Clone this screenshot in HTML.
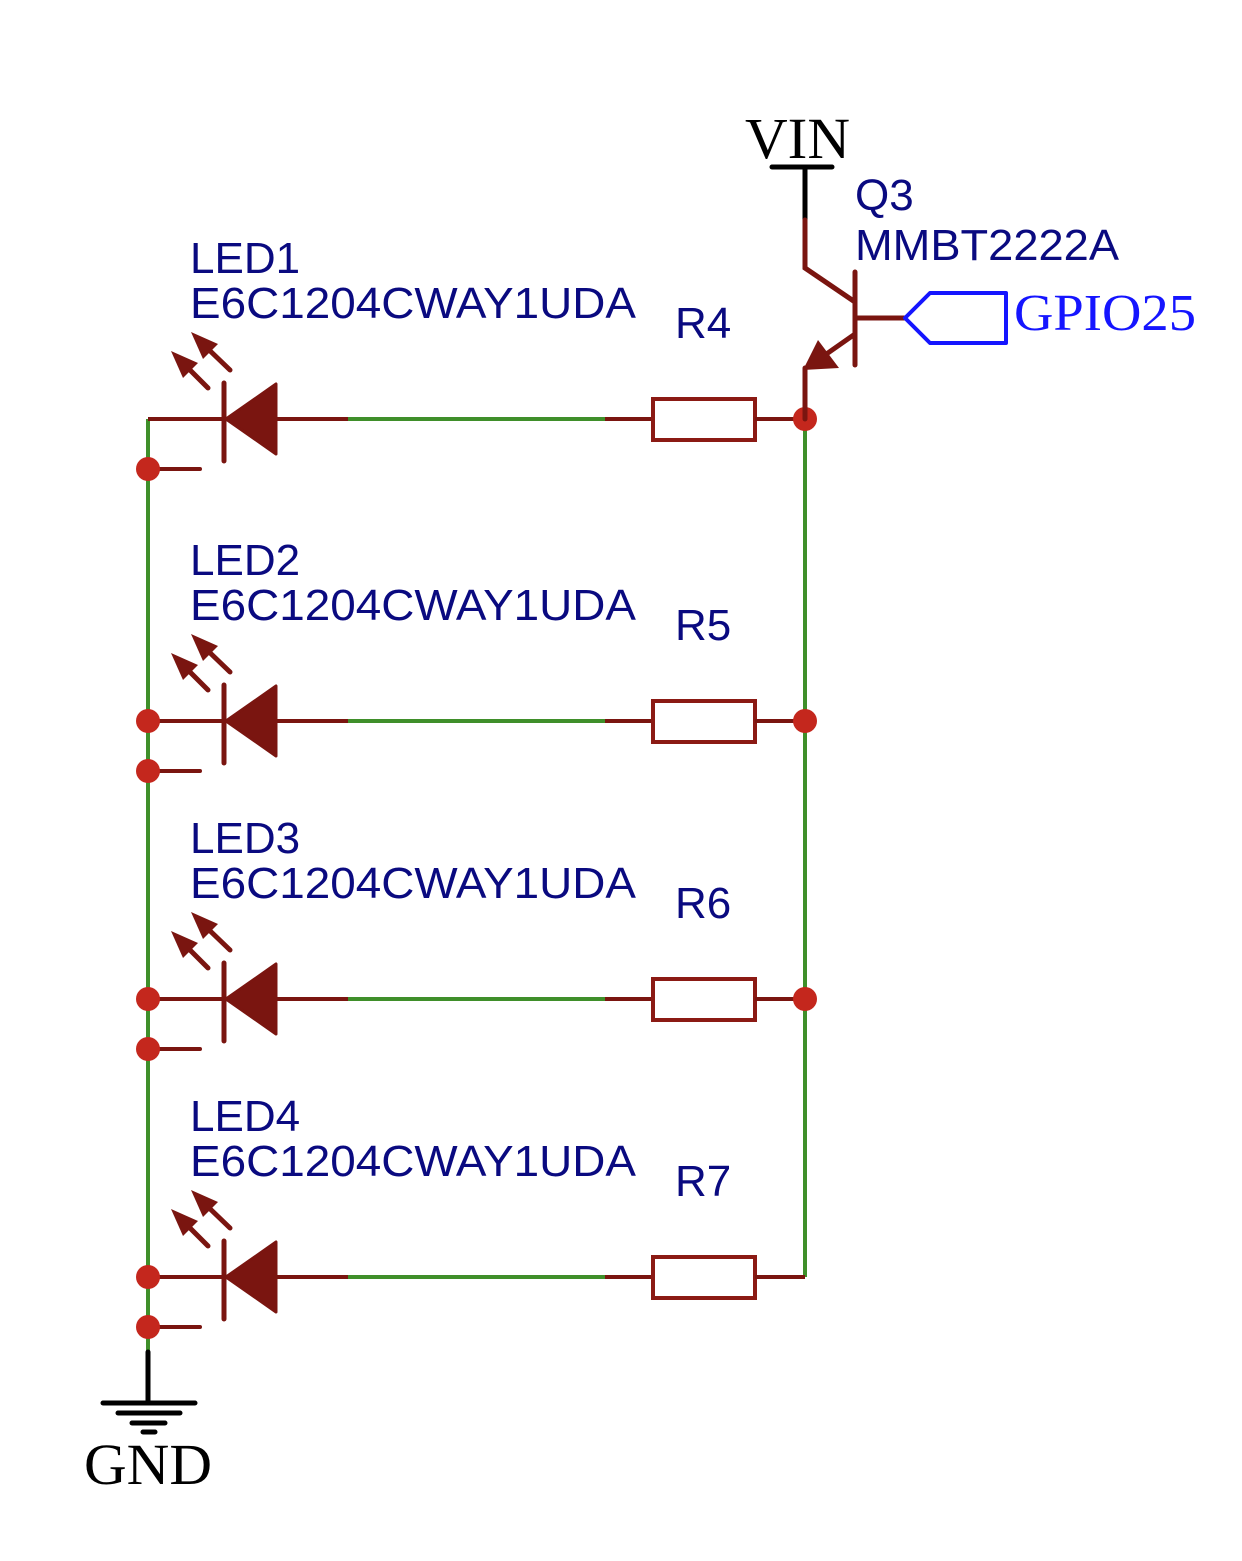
<!DOCTYPE html>
<html><head><meta charset="utf-8"><style>html,body{margin:0;padding:0;background:#fff}svg{display:block}</style></head>
<body>
<svg width="1242" height="1561" viewBox="0 0 1242 1561" xmlns="http://www.w3.org/2000/svg">
<defs>
<g id="led">
  <line x1="148" y1="0" x2="348" y2="0" stroke="#7a1510" stroke-width="4"/>
  <line x1="348" y1="0" x2="605" y2="0" stroke="#3f8f2a" stroke-width="4"/>
  <line x1="605" y1="0" x2="652" y2="0" stroke="#7a1510" stroke-width="4"/>
  <rect x="653" y="-20" width="102" height="41" fill="none" stroke="#8b1a14" stroke-width="4"/>
  <line x1="755" y1="0" x2="805" y2="0" stroke="#7a1510" stroke-width="4"/>
  <line x1="224" y1="-36" x2="224" y2="42" stroke="#7a1510" stroke-width="5" stroke-linecap="round"/>
  <polygon points="226,0 276,-35 276,35" fill="#7a1510" stroke="#7a1510" stroke-width="3" stroke-linejoin="round"/>
  <line x1="208" y1="-31" x2="185" y2="-54" stroke="#7a1510" stroke-width="5" stroke-linecap="round"/>
  <polygon points="171,-68 198,-56 183,-41" fill="#7a1510"/>
  <line x1="230" y1="-49" x2="205" y2="-73" stroke="#7a1510" stroke-width="5" stroke-linecap="round"/>
  <polygon points="191,-87 218,-75 203,-60" fill="#7a1510"/>
  <line x1="148" y1="50" x2="200" y2="50" stroke="#7a1510" stroke-width="4" stroke-linecap="round"/>
  <circle cx="148" cy="50" r="12" fill="#c4271d"/>
</g>
</defs>
<line x1="148" y1="419" x2="148" y2="1352" stroke="#3f8f2a" stroke-width="4"/>
<line x1="805" y1="419" x2="805" y2="1277" stroke="#3f8f2a" stroke-width="4"/>
<use href="#led" y="419"/>
<use href="#led" y="721"/>
<use href="#led" y="999"/>
<use href="#led" y="1277"/>
<g fill="#c4271d">
<circle cx="805" cy="419" r="12"/><circle cx="805" cy="721" r="12"/><circle cx="805" cy="999" r="12"/>
<circle cx="148" cy="721" r="12"/><circle cx="148" cy="999" r="12"/><circle cx="148" cy="1277" r="12"/>
</g>
<g stroke="#000" stroke-width="5" stroke-linecap="round">
<line x1="148" y1="1352" x2="148" y2="1403"/>
<line x1="103" y1="1403" x2="195" y2="1403"/>
<line x1="118" y1="1413" x2="180" y2="1413"/>
<line x1="132" y1="1423" x2="165" y2="1423"/>
<line x1="143" y1="1432" x2="155" y2="1432"/>
</g>
<text x="84" y="1484" textLength="128" lengthAdjust="spacingAndGlyphs" font-family="Liberation Serif, serif" font-size="58" fill="#000">GND</text>
<g stroke-linecap="round" stroke-width="5">
<line x1="772" y1="167" x2="832" y2="167" stroke="#000"/>
<line x1="805" y1="167" x2="805" y2="220" stroke="#000"/>
<polyline points="805,220 805,268 855,302" fill="none" stroke="#7a1510"/>
<line x1="855" y1="272" x2="855" y2="365" stroke="#7a1510"/>
<line x1="855" y1="318" x2="905" y2="318" stroke="#7a1510"/>
<line x1="855" y1="334" x2="825" y2="355" stroke="#7a1510"/>
<line x1="805" y1="368" x2="805" y2="419" stroke="#7a1510"/>
</g>
<polygon points="803,370 818,340 839,368" fill="#7a1510"/>
<polygon points="905,318 930,293 1006,293 1006,343 930,343" fill="none" stroke="#1515ff" stroke-width="4" stroke-linejoin="round"/>
<text x="745" y="158" textLength="105" lengthAdjust="spacingAndGlyphs" font-family="Liberation Serif, serif" font-size="58" fill="#000">VIN</text>
<text x="1014" y="330" textLength="182" lengthAdjust="spacingAndGlyphs" font-family="Liberation Serif, serif" font-size="52" fill="#1515ff">GPIO25</text>
<g font-family="Liberation Sans, sans-serif" font-size="44" fill="#0a0a80">
<text x="855" y="210">Q3</text>
<text x="855" y="260" textLength="264" lengthAdjust="spacingAndGlyphs">MMBT2222A</text>
<text x="190" y="273">LED1</text>
<text x="190" y="318" textLength="446" lengthAdjust="spacingAndGlyphs">E6C1204CWAY1UDA</text>
<text x="675" y="338">R4</text>
<text x="190" y="575">LED2</text>
<text x="190" y="620" textLength="446" lengthAdjust="spacingAndGlyphs">E6C1204CWAY1UDA</text>
<text x="675" y="640">R5</text>
<text x="190" y="853">LED3</text>
<text x="190" y="898" textLength="446" lengthAdjust="spacingAndGlyphs">E6C1204CWAY1UDA</text>
<text x="675" y="918">R6</text>
<text x="190" y="1131">LED4</text>
<text x="190" y="1176" textLength="446" lengthAdjust="spacingAndGlyphs">E6C1204CWAY1UDA</text>
<text x="675" y="1196">R7</text>
</g>
</svg>
</body></html>
